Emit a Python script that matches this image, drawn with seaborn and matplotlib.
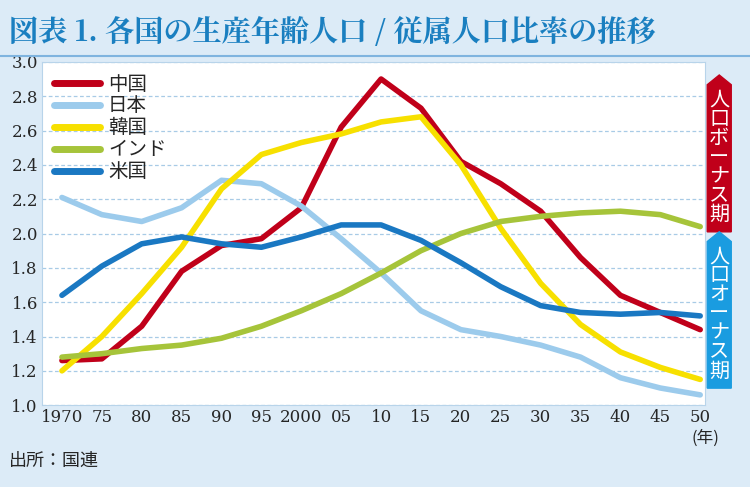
import numpy as np
import pandas as pd
import matplotlib.pyplot as plt
import seaborn as sns
from matplotlib.patches import Polygon

years = list(range(1970, 2051, 5))
china = [1.26, 1.27, 1.46, 1.78, 1.93, 1.97, 2.15, 2.62, 2.90, 2.73, 2.42, 2.29, 2.13, 1.86, 1.64, 1.54, 1.44]
japan = [2.21, 2.11, 2.07, 2.15, 2.31, 2.29, 2.16, 1.97, 1.77, 1.55, 1.44, 1.40, 1.35, 1.28, 1.16, 1.10, 1.06]
korea = [1.20, 1.40, 1.65, 1.92, 2.26, 2.46, 2.53, 2.58, 2.65, 2.68, 2.40, 2.03, 1.71, 1.47, 1.31, 1.22, 1.15]
india = [1.28, 1.30, 1.33, 1.35, 1.39, 1.46, 1.55, 1.65, 1.77, 1.90, 2.00, 2.07, 2.10, 2.12, 2.13, 2.11, 2.04]
usa = [1.64, 1.81, 1.94, 1.98, 1.94, 1.92, 1.98, 2.05, 2.05, 1.96, 1.83, 1.69, 1.58, 1.54, 1.53, 1.54, 1.52]
names = ["中国", "日本", "韓国", "インド", "米国"]
colors = ["#c0001a", "#9ccbec", "#f7e000", "#a6c43a", "#1a78c2"]
xlabels = ["1970", "75", "80", "85", "90", "95", "2000", "05", "10", "15", "20", "25", "30", "35", "40", "45", "50"]

df = pd.DataFrame({"year": years * 5,
                   "value": china + japan + korea + india + usa,
                   "country": sum([[n] * len(years) for n in names], [])})

sns.set_style("white")
plt.rcParams['font.family'] = ['Noto Sans CJK JP', 'DejaVu Sans']
bg = "#dcebf7"
fig = plt.figure(figsize=(7.5, 4.87), dpi=100, facecolor=bg)
ax = fig.add_axes([0.056, 0.168, 0.884, 0.705])
sns.lineplot(data=df, x="year", y="value", hue="country", palette=colors,
             hue_order=names, linewidth=4, ax=ax)
ax.set_xlim(1967.5, 2050.6)
ax.set_ylim(1.0, 3.0)
ax.set_yticks(np.arange(1.0, 3.01, 0.2))
ax.set_yticklabels([f"{v:.1f}" for v in np.arange(1.0, 3.01, 0.2)], family="DejaVu Serif", fontsize=12)
ax.set_xticks(years)
ax.set_xticklabels(xlabels, family="DejaVu Serif", fontsize=12)
ax.tick_params(length=0, pad=3)
ax.yaxis.grid(True, linestyle=(0, (3, 2)), color="#a8cbe6", linewidth=0.9)
for s in ax.spines.values():
    s.set_color("#b8d4ea")
ax.set_xlabel("")
ax.set_ylabel("")
leg = ax.legend(loc="upper left", frameon=False, fontsize=14, handlelength=2.4,
                borderaxespad=0.2, labelspacing=0.05, handletextpad=0.4)
for h in leg.get_lines():
    h.set_linewidth(5)
ax.text(1.0, -0.07, "(年)", transform=ax.transAxes, ha="center", va="top", fontsize=12)

# title
fig.text(0.012, 0.965, "図表 1. 各国の生産年齢人口 / 従属人口比率の推移", color="#1a7fc0",
         fontsize=21, fontweight="bold", va="top", family=['Noto Serif CJK JP', 'Noto Sans CJK JP'])
fig.add_artist(plt.Line2D([0.0, 1.0], [0.885, 0.885], color="#7fb4df", linewidth=1.5))
fig.text(0.012, 0.035, "出所：国連", fontsize=13, va="bottom")

# right side phase boxes
x0, x1 = 0.943, 0.975
def phase(y_top, y_bot, color, label):
    xm = (x0 + x1) / 2
    pts = [(x0, y_top - 0.02), (xm, y_top), (x1, y_top - 0.02), (x1, y_bot), (x0, y_bot)]
    fig.add_artist(Polygon(pts, closed=True, transform=fig.transFigure, color=color))
    fig.text(xm, (y_top + y_bot) / 2 - 0.008, "\n".join(label), color="white", fontsize=14.5,
             ha="center", va="center", linespacing=0.88)
phase(0.846, 0.524, "#c0001a", "人口ボーナス期")
phase(0.524, 0.203, "#1a9ce0", "人口オーナス期")

fig.savefig("out.png", dpi=100, facecolor=bg)
